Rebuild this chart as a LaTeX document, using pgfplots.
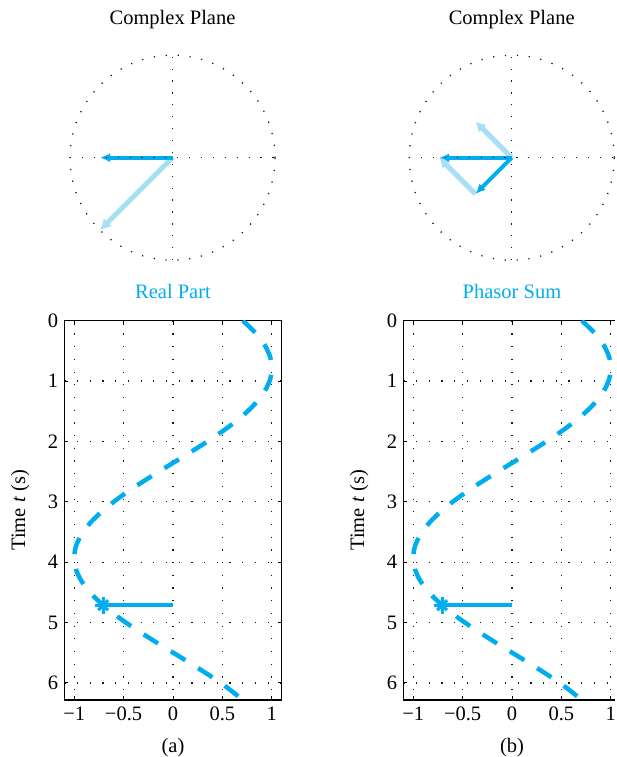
\documentclass[border=0pt]{standalone}
\usepackage{fontspec}
\setmainfont{Liberation Serif}
\usepackage{pgfplots}
\usepackage{pgfplotstable}
\pgfplotsset{compat=1.18}
\usetikzlibrary{arrows.meta}
\definecolor{spcyan}{RGB}{0,174,239}
\definecolor{splight}{RGB}{168,222,246}
\pgfplotstableread{
x t
0.70711 0
0.83147 0.19635
0.92388 0.39270
0.98079 0.58905
1.00000 0.78540
0.98079 0.98175
0.92388 1.17810
0.83147 1.37445
0.70711 1.57080
0.55557 1.76715
0.38268 1.96350
0.19509 2.15984
0.00000 2.35619
-0.19509 2.55254
-0.38268 2.74889
-0.55557 2.94524
-0.70711 3.14159
-0.83147 3.33794
-0.92388 3.53429
-0.98079 3.73064
-1.00000 3.92699
-0.98079 4.12334
-0.92388 4.31969
-0.83147 4.51604
-0.70711 4.71239
-0.55557 4.90874
-0.38268 5.10509
-0.19509 5.30144
0.00000 5.49779
0.19509 5.69414
0.38268 5.89049
0.55557 6.08684
0.70711 6.28319
}\curve
\newcommand\bigfont{\fontsize{20.5}{24}\selectfont}
\tikzset{dotgrid/.style={black!90, line width=1.3pt, dash pattern=on 1.2pt off 10.7pt}}
\pgfplotsset{
 timeaxis/.style={
  scale only axis, width=217.4pt, height=379.3pt,
  xmin=-1.1, xmax=1.1, ymin=0, ymax=6.28319, y dir=reverse,
  xtick={-1,-0.5,0,0.5,1}, xticklabels={−1,−0.5,0,0.5,1},
  ytick={0,1,2,3,4,5,6}, yticklabels={0,1,2,3,4,5,6},
  xtick pos=both, ytick pos=both, xticklabel pos=lower, yticklabel pos=left,
  tick align=inside, major tick length=4pt,
  every tick/.style={black, line width=1pt},
  axis line style={black, line width=1.2pt},
  grid=major, grid style={black!90, line width=1.3pt, dash pattern=on 1.2pt off 11.5pt},
  tick label style={font=\bigfont},
  xticklabel style={yshift=-3pt},
  yticklabel style={xshift=-2.6pt},
  /pgf/number format/assume math mode=true,
  title style={font=\bigfont, text=spcyan, at={(axis description cs:0.5,1)}, anchor=base, yshift=16.7pt},
  ylabel={Time \textit{t} (s)},
  ylabel style={font=\bigfont, at={(axis description cs:-0.2024,0.5)}, anchor=center},
  xlabel style={font=\bigfont, inner sep=0pt, at={(axis description cs:0.5,0)}, anchor=base, yshift=-52pt},
 },
 planeaxis/.style={
  scale only axis, width=205pt, height=205pt,
  xmin=-1, xmax=1, ymin=-1, ymax=1, hide axis, clip=false,
  title={Complex Plane},
  title style={font=\bigfont, text=black, at={(axis description cs:0.5,1)}, anchor=base, yshift=24.2pt},
 },
}
\begin{document}
\begin{tikzpicture}
\path (0,0) rectangle (616pt,-757pt);
\begin{scope}[overlay]
% ---- (a) complex plane ----
\begin{axis}[planeaxis, at={(172.5pt,-157.7pt)}, anchor=center]
\addplot[splight, line width=5pt, -{Latex[length=11pt,width=12pt]}] coordinates {(0,0) (-0.70711,-0.70711)};
\addplot[spcyan, line width=4pt, -{Latex[length=10pt,width=9pt]}] coordinates {(0,0) (-0.70711,0)};
\draw[dotgrid] (axis cs:0,0) circle[radius=1];
\addplot[dotgrid] coordinates {(-1,0) (1,0)};
\addplot[dotgrid] coordinates {(0,-1) (0,1)};
\end{axis}

% ---- (b) complex plane ----
\begin{axis}[planeaxis, at={(511.7pt,-157.7pt)}, anchor=center]
\addplot[splight, line width=5pt, -{Latex[length=10pt,width=11pt]}] coordinates {(0,0) (-0.35355,0.35355)};
\addplot[splight, line width=5pt, -{Latex[length=10pt,width=11pt]}] coordinates {(-0.35355,-0.35355) (-0.70711,0)};
\addplot[spcyan, line width=4pt, -{Latex[length=10pt,width=9pt]}] coordinates {(0,0) (-0.35355,-0.35355)};
\addplot[spcyan, line width=4pt, -{Latex[length=10pt,width=9pt]}] coordinates {(0,0) (-0.70711,0)};
\draw[dotgrid] (axis cs:0,0) circle[radius=1];
\addplot[dotgrid] coordinates {(-1,0) (1,0)};
\addplot[dotgrid] coordinates {(0,-1) (0,1)};
\end{axis}

% ---- (a) real part ----
\begin{axis}[timeaxis, at={(64.3pt,-700pt)}, anchor=south west, title={Real Part}, xlabel={(a)}]
\addplot[spcyan, line width=4.5pt, dash pattern=on 17pt off 15pt, smooth] table[x=x, y=t] {\curve};
\addplot[spcyan, line width=4pt] coordinates {(0,4.71239) (-0.70711,4.71239)};
\addplot[spcyan, only marks, mark=+, mark size=8.5pt, mark options={line width=3.2pt}] coordinates {(-0.70711,4.71239)};
\addplot[spcyan, only marks, mark=x, mark size=7pt, mark options={line width=3.2pt}] coordinates {(-0.70711,4.71239)};
\end{axis}

% ---- (b) phasor sum (cut at the right edge of the picture) ----
\begin{axis}[timeaxis, at={(403.3pt,-700pt)}, anchor=south west, title={Phasor Sum}, xlabel={(b)},
  width=212pt, xmax=1.0454, axis x line*=box, axis y line*=left,
  title style={at={(axis description cs:0.5127,1)}}, xlabel style={at={(axis description cs:0.5127,0)}},
  ylabel style={at={(axis description cs:-0.2075,0.5)}}]
\addplot[spcyan, line width=4.5pt, dash pattern=on 17pt off 15pt, smooth] table[x=x, y=t] {\curve};
\addplot[spcyan, line width=4pt] coordinates {(0,4.71239) (-0.70711,4.71239)};
\addplot[spcyan, only marks, mark=+, mark size=8.5pt, mark options={line width=3.2pt}] coordinates {(-0.70711,4.71239)};
\addplot[spcyan, only marks, mark=x, mark size=7pt, mark options={line width=3.2pt}] coordinates {(-0.70711,4.71239)};
\end{axis}
\end{scope}
\end{tikzpicture}
\end{document}
